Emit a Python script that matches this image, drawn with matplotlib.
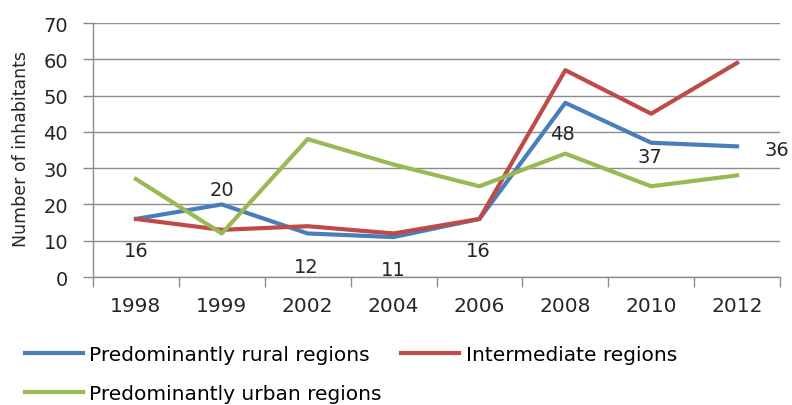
import numpy as np
import matplotlib
matplotlib.use('Agg')
import matplotlib.pyplot as plt

years = ['1998', '1999', '2002', '2004', '2006', '2008', '2010', '2012']
rural = [16, 20, 12, 11, 16, 48, 37, 36]
intermediate = [16, 13, 14, 12, 16, 57, 45, 59]
urban = [27, 12, 38, 31, 25, 34, 25, 28]

# label offsets (points) for the data labels of the rural series
label_offsets = [(0, -23), (0, 11), (-1, -24), (0, -23), (-1, -23), (-2, -22), (-1, -10), (29, -2)]

plt.rcParams['font.family'] = ['DejaVu Sans']

fig = plt.figure(figsize=(7.92, 4.06), dpi=100)
ax = fig.add_axes([93 / 792, 1 - 278 / 406, 687 / 792, 254 / 406])

x = np.arange(len(years))
ax.plot(x, rural, color='#4A7EBB', lw=3, solid_joinstyle='round', label='Predominantly rural regions')
ax.plot(x, intermediate, color='#BE4B48', lw=3, solid_joinstyle='round', label='Intermediate regions')
ax.plot(x, urban, color='#98B954', lw=3, solid_joinstyle='round', label='Predominantly urban regions')

for xi, v, off in zip(x, rural, label_offsets):
    ax.annotate(str(v), (xi, v), xytext=off, textcoords='offset points',
                ha='center', va='center', fontsize=14, color='#262626')

ax.set_xlim(-0.5, len(years) - 0.5)
ax.set_ylim(0, 70)
ax.set_yticks(range(0, 71, 10))
ax.yaxis.grid(True, color='#8C8C8C', lw=1)
ax.set_axisbelow(True)

ax.set_xticks(np.arange(-0.5, len(years)), labels=[])
ax.set_xticks(x, labels=years, minor=True)
ax.tick_params(axis='x', which='major', direction='out', length=7, color='#8C8C8C', width=1)
ax.tick_params(axis='x', which='minor', length=0, pad=14, labelsize=14.5, labelcolor='#262626')
ax.tick_params(axis='y', direction='out', length=7, color='#8C8C8C', width=1, pad=11,
               labelsize=14, labelcolor='#262626')

for s in ['top', 'right']:
    ax.spines[s].set_visible(False)
for s in ['left', 'bottom']:
    ax.spines[s].set_color('#8C8C8C')
    ax.spines[s].set_linewidth(1)

fig.text(21 / 792, 1 - 149 / 406, 'Number of inhabitants', rotation=90,
         ha='center', va='center', fontsize=12.5, color='#262626')

h, l = ax.get_legend_handles_labels()
order = [0, 2, 1]
fig.legend([h[i] for i in order], [l[i] for i in order], ncol=2, loc='upper left',
           bbox_to_anchor=(25 / 792, 1 - 346 / 406), frameon=False, fontsize=14.5,
           handlelength=2.9, handletextpad=0.3, labelspacing=1.0, columnspacing=0.95,
           borderpad=0, borderaxespad=0)

fig.savefig('out.png', dpi=100)
